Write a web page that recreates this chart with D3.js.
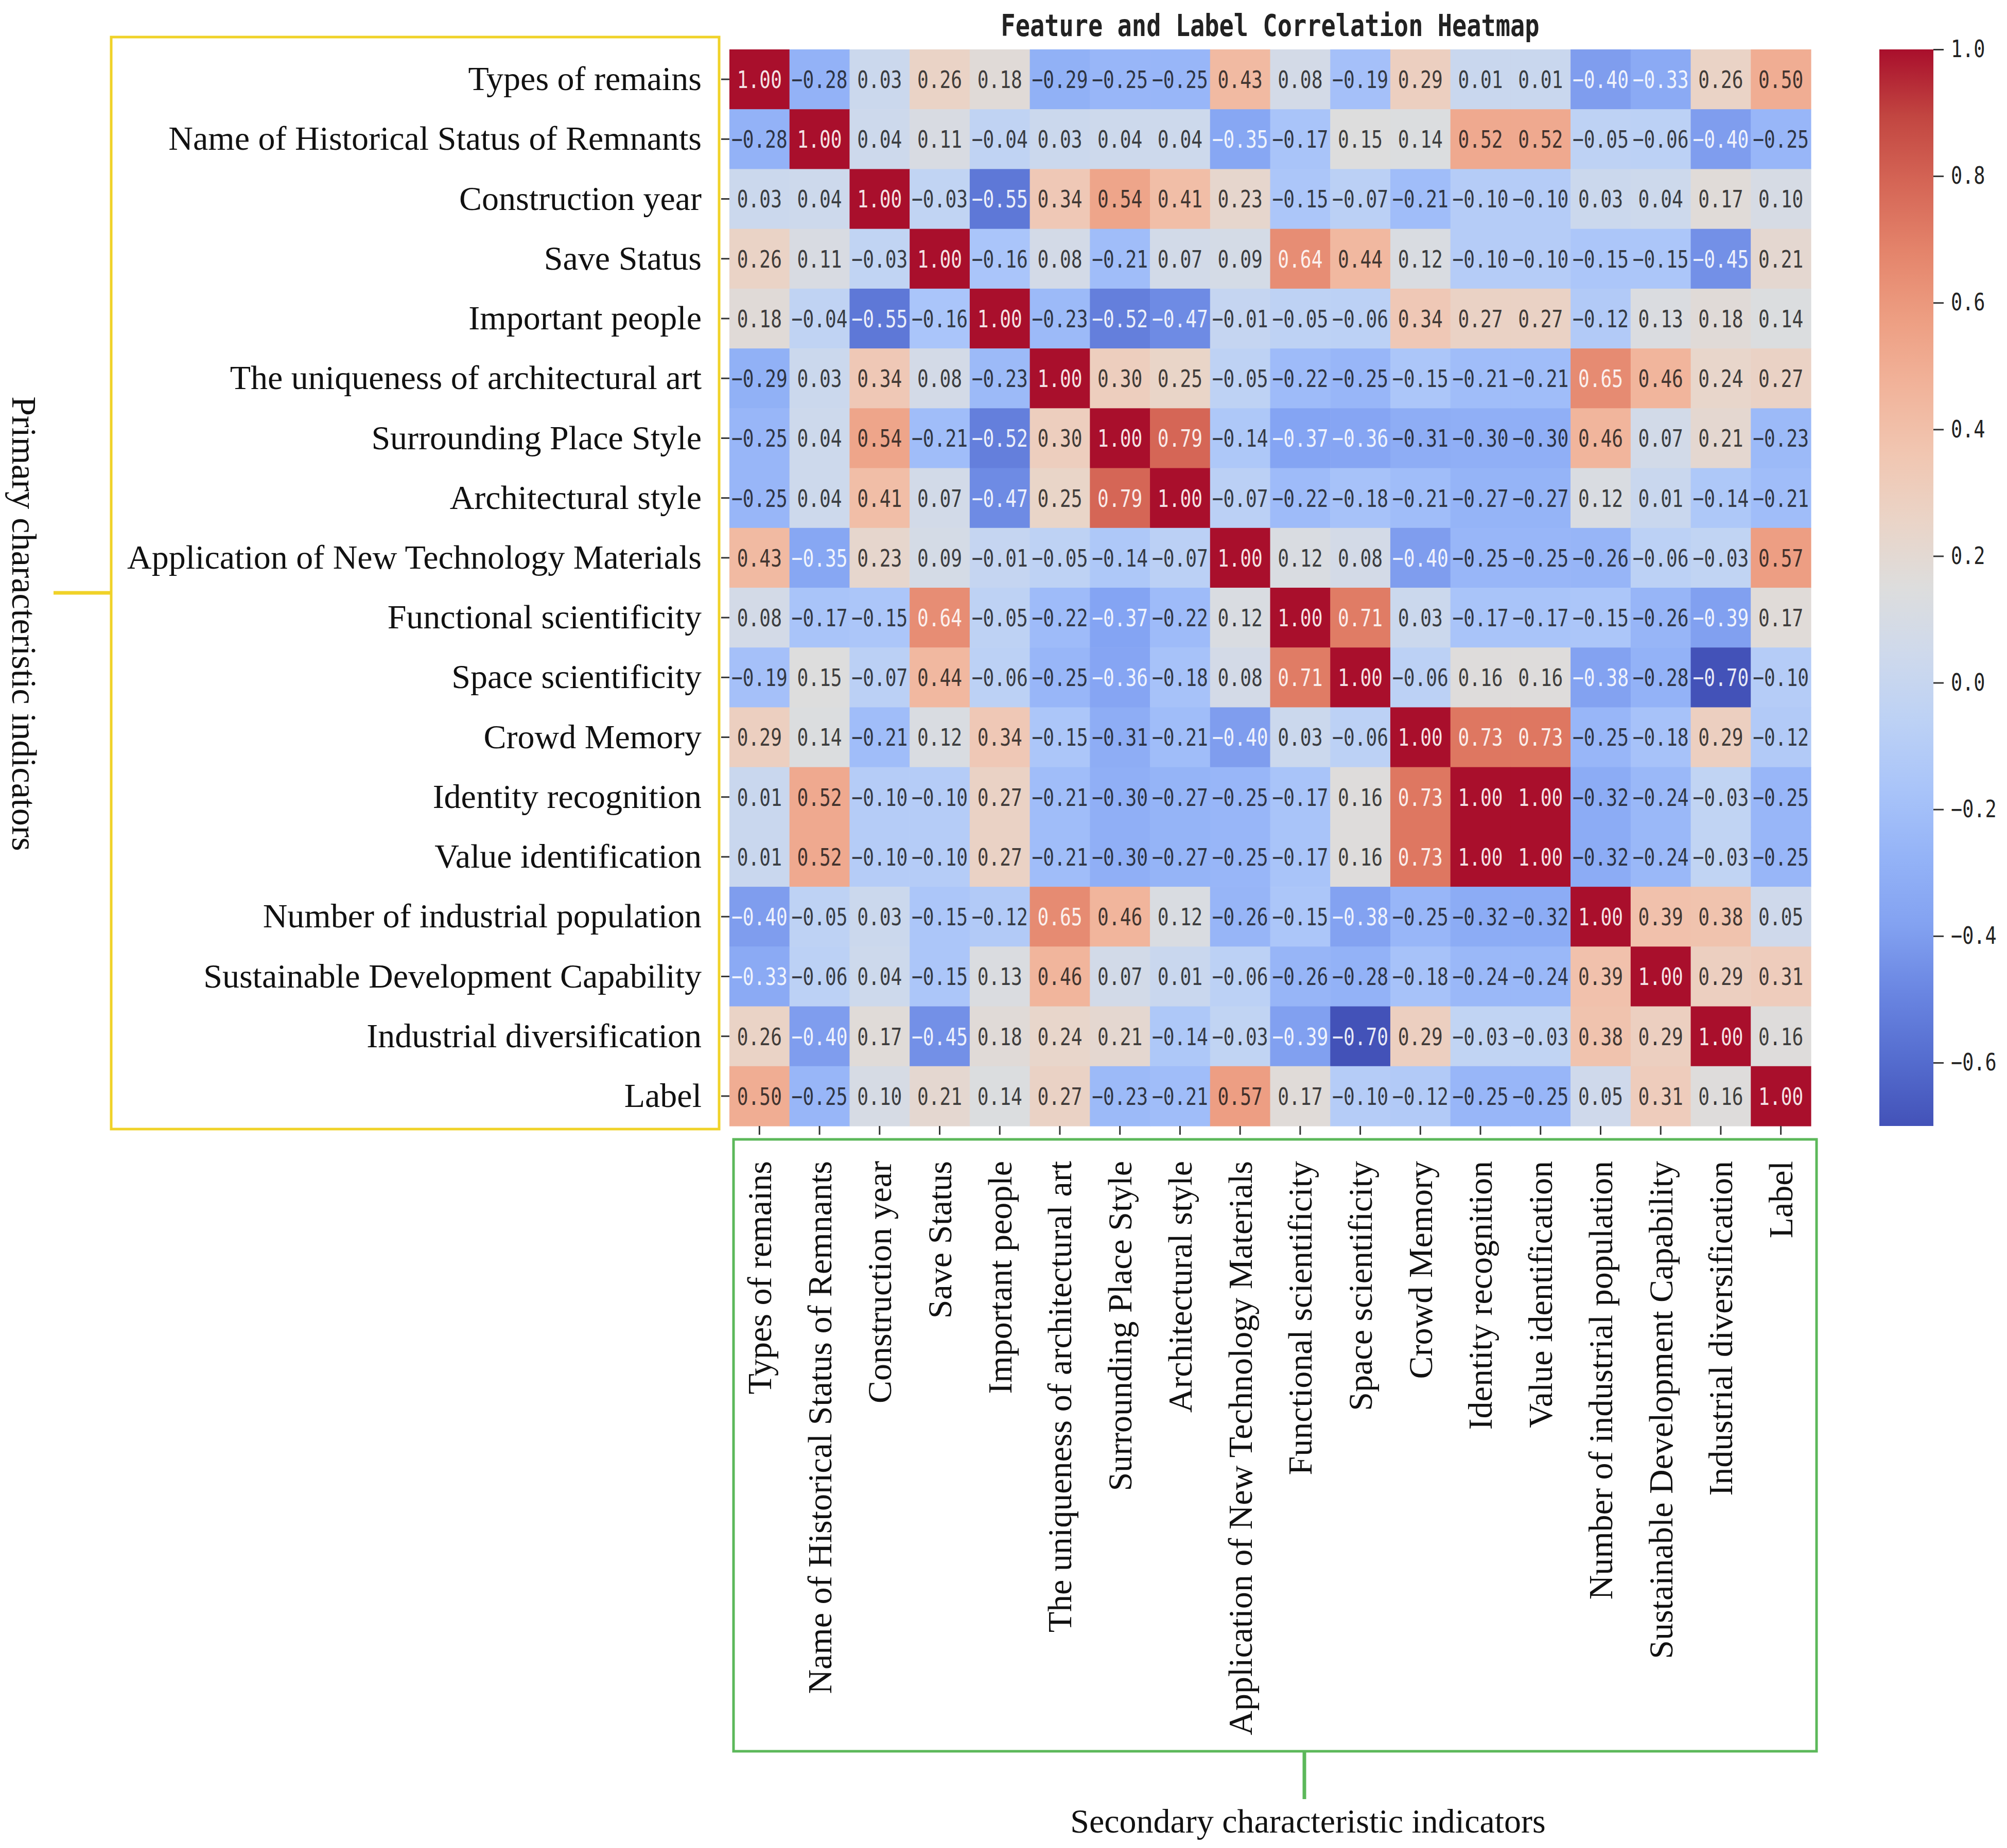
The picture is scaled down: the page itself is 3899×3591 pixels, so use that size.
<!DOCTYPE html>
<html>
<head>
<meta charset="utf-8">
<script src="https://cdn.jsdelivr.net/npm/d3@7/dist/d3.min.js"></script>
<style>
  body { margin: 0; background: #fff; }
</style>
</head>
<body>
<svg id="heatmap"></svg>
<script>
// feature names (rows and columns are the same list)
const features = [
  "Types of remains",
  "Name of Historical Status of Remnants",
  "Construction year",
  "Save Status",
  "Important people",
  "The uniqueness of architectural art",
  "Surrounding Place Style",
  "Architectural style",
  "Application of New Technology Materials",
  "Functional scientificity",
  "Space scientificity",
  "Crowd Memory",
  "Identity recognition",
  "Value identification",
  "Number of industrial population",
  "Sustainable Development Capability",
  "Industrial diversification",
  "Label"
];

// correlation rows
const rowTypes      = [1.00, -0.28, 0.03, 0.26, 0.18, -0.29, -0.25, -0.25, 0.43, 0.08, -0.19, 0.29, 0.01, 0.01, -0.40, -0.33, 0.26, 0.50];
const rowName       = [-0.28, 1.00, 0.04, 0.11, -0.04, 0.03, 0.04, 0.04, -0.35, -0.17, 0.15, 0.14, 0.52, 0.52, -0.05, -0.06, -0.40, -0.25];
const rowYear       = [0.03, 0.04, 1.00, -0.03, -0.55, 0.34, 0.54, 0.41, 0.23, -0.15, -0.07, -0.21, -0.10, -0.10, 0.03, 0.04, 0.17, 0.10];
const rowSave       = [0.26, 0.11, -0.03, 1.00, -0.16, 0.08, -0.21, 0.07, 0.09, 0.64, 0.44, 0.12, -0.10, -0.10, -0.15, -0.15, -0.45, 0.21];
const rowPeople     = [0.18, -0.04, -0.55, -0.16, 1.00, -0.23, -0.52, -0.47, -0.01, -0.05, -0.06, 0.34, 0.27, 0.27, -0.12, 0.13, 0.18, 0.14];
const rowUnique     = [-0.29, 0.03, 0.34, 0.08, -0.23, 1.00, 0.30, 0.25, -0.05, -0.22, -0.25, -0.15, -0.21, -0.21, 0.65, 0.46, 0.24, 0.27];
const rowPlace      = [-0.25, 0.04, 0.54, -0.21, -0.52, 0.30, 1.00, 0.79, -0.14, -0.37, -0.36, -0.31, -0.30, -0.30, 0.46, 0.07, 0.21, -0.23];
const rowArchStyle  = [-0.25, 0.04, 0.41, 0.07, -0.47, 0.25, 0.79, 1.00, -0.07, -0.22, -0.18, -0.21, -0.27, -0.27, 0.12, 0.01, -0.14, -0.21];
const rowNewTech    = [0.43, -0.35, 0.23, 0.09, -0.01, -0.05, -0.14, -0.07, 1.00, 0.12, 0.08, -0.40, -0.25, -0.25, -0.26, -0.06, -0.03, 0.57];
const rowFunctional = [0.08, -0.17, -0.15, 0.64, -0.05, -0.22, -0.37, -0.22, 0.12, 1.00, 0.71, 0.03, -0.17, -0.17, -0.15, -0.26, -0.39, 0.17];
const rowSpace      = [-0.19, 0.15, -0.07, 0.44, -0.06, -0.25, -0.36, -0.18, 0.08, 0.71, 1.00, -0.06, 0.16, 0.16, -0.38, -0.28, -0.70, -0.10];
const rowCrowd      = [0.29, 0.14, -0.21, 0.12, 0.34, -0.15, -0.31, -0.21, -0.40, 0.03, -0.06, 1.00, 0.73, 0.73, -0.25, -0.18, 0.29, -0.12];
const rowIdentity   = [0.01, 0.52, -0.10, -0.10, 0.27, -0.21, -0.30, -0.27, -0.25, -0.17, 0.16, 0.73, 1.00, 1.00, -0.32, -0.24, -0.03, -0.25];
const rowValue      = [0.01, 0.52, -0.10, -0.10, 0.27, -0.21, -0.30, -0.27, -0.25, -0.17, 0.16, 0.73, 1.00, 1.00, -0.32, -0.24, -0.03, -0.25];
const rowPopulation = [-0.40, -0.05, 0.03, -0.15, -0.12, 0.65, 0.46, 0.12, -0.26, -0.15, -0.38, -0.25, -0.32, -0.32, 1.00, 0.39, 0.38, 0.05];
const rowSustain    = [-0.33, -0.06, 0.04, -0.15, 0.13, 0.46, 0.07, 0.01, -0.06, -0.26, -0.28, -0.18, -0.24, -0.24, 0.39, 1.00, 0.29, 0.31];
const rowDiversity  = [0.26, -0.40, 0.17, -0.45, 0.18, 0.24, 0.21, -0.14, -0.03, -0.39, -0.70, 0.29, -0.03, -0.03, 0.38, 0.29, 1.00, 0.16];
const rowLabel      = [0.50, -0.25, 0.10, 0.21, 0.14, 0.27, -0.23, -0.21, 0.57, 0.17, -0.10, -0.12, -0.25, -0.25, 0.05, 0.31, 0.16, 1.00];

const matrix = [rowTypes, rowName, rowYear, rowSave, rowPeople, rowUnique, rowPlace, rowArchStyle,
  rowNewTech, rowFunctional, rowSpace, rowCrowd, rowIdentity, rowValue, rowPopulation, rowSustain,
  rowDiversity, rowLabel];

const colorbarTicks = [1.0, 0.8, 0.6, 0.4, 0.2, 0.0, -0.2, -0.4, -0.6];

const chartTitle = "Feature and Label Correlation Heatmap";
const primaryTitle = "Primary characteristic indicators";
const secondaryTitle = "Secondary characteristic indicators";

// coolwarm colormap (Moreland), sampled
const coolwarm = ["#3b4cc0", "#4d68d7", "#6282ea", "#7b9ff9", "#8db0fe", "#a3c2ff", "#b8d0f9", "#ccd9ee",
  "#dddddd", "#ecd3c5", "#f5c4ad", "#f7b194", "#f49a7b", "#ec7f63", "#de604d", "#cb3e38", "#b40426"];

const W = 3899, H = 3591;
const plot = { left: 1417, right: 3518, top: 96, bottom: 2188 };

const svg = d3.select("#heatmap").attr("width", W).attr("height", H);
svg.append("rect").attr("width", W).attr("height", H).attr("fill", "#fff");

// scales
const x = d3.scaleBand().domain(d3.range(features.length)).range([plot.left, plot.right]);
const y = d3.scaleBand().domain(d3.range(features.length)).range([plot.top, plot.bottom]);

const allVals = matrix.flat();
const vmin = d3.min(allVals), vmax = d3.max(allVals);
const cw = d3.scaleLinear()
  .domain(coolwarm.map((c, i) => i / (coolwarm.length - 1)))
  .range(coolwarm)
  .interpolate(d3.interpolateRgb);
// picture is a bit washed out compared to plain coolwarm
const mute = c => { const h = d3.hsl(c); h.s *= 0.88; return h.formatHex(); };
const color = v => mute(cw((v - vmin) / (vmax - vmin)));

// seaborn picks text colour by luminance of the cell
function luminance(c) {
  const rgb = d3.rgb(c);
  const lin = [rgb.r, rgb.g, rgb.b].map(v => {
    v = v / 255;
    return v <= 0.03928 ? v / 12.92 : Math.pow((v + 0.055) / 1.055, 2.4);
  });
  return 0.2126 * lin[0] + 0.7152 * lin[1] + 0.0722 * lin[2];
}

const cells = [];
matrix.forEach((row, i) => row.forEach((v, j) => cells.push({ i, j, v })));

const fmt = d3.format(".2f");

svg.append("g").selectAll("rect")
  .data(cells)
  .join("rect")
  .attr("x", d => x(d.j))
  .attr("y", d => y(d.i))
  .attr("width", x.bandwidth() + 0.6)
  .attr("height", y.bandwidth() + 0.6)
  .attr("fill", d => color(d.v));

// annotations: mono font squeezed sideways like the original
const squeeze = 0.77;
svg.append("g").selectAll("text")
  .data(cells)
  .join("text")
  .attr("transform", d => `translate(${x(d.j) + x.bandwidth() / 2},${y(d.i) + y.bandwidth() / 2}) scale(${squeeze},1)`)
  .attr("dy", "0.36em")
  .attr("text-anchor", "middle")
  .attr("font-family", "'DejaVu Sans Mono', monospace")
  .attr("font-size", 47)
  .attr("fill", d => {
    const c = color(d.v);
    return luminance(c) > 0.408 ? d3.interpolateRgb(c, "#111")(0.78) : "#fff";
  })
  .attr("fill-opacity", d => luminance(color(d.v)) > 0.408 ? 1 : 0.9)
  .text(d => fmt(d.v));

// axes
const labelFont = "'Liberation Serif', 'Times New Roman', serif";
const yAxis = d3.axisLeft(y).tickSize(16).tickPadding(38).tickFormat(i => features[i]);
const gy = svg.append("g").attr("transform", `translate(${plot.left},0)`).call(yAxis);
gy.select(".domain").remove();
gy.selectAll(".tick line").attr("stroke", "#333").attr("stroke-width", 3);
gy.selectAll(".tick text")
  .attr("font-family", labelFont)
  .attr("font-size", 66)
  .attr("fill", "#111");

const xAxis = d3.axisBottom(x).tickSize(17).tickFormat(i => features[i]);
const gx = svg.append("g").attr("transform", `translate(0,${plot.bottom})`).call(xAxis);
gx.select(".domain").remove();
gx.selectAll(".tick line").attr("stroke", "#333").attr("stroke-width", 3);
gx.selectAll(".tick text")
  .attr("font-family", labelFont)
  .attr("font-size", 66)
  .attr("fill", "#111")
  .attr("transform", "rotate(-90)")
  .attr("text-anchor", "end")
  .attr("x", -68)
  .attr("y", 0)
  .attr("dy", "0.34em");

// title
svg.append("text")
  .attr("transform", `translate(${(plot.left + plot.right) / 2},70) scale(0.81,1)`)
  .attr("text-anchor", "middle")
  .attr("font-family", "'DejaVu Sans Mono', monospace")
  .attr("font-weight", "bold")
  .attr("font-size", 58)
  .attr("fill", "#222")
  .text(chartTitle);

// colorbar
const cbar = { left: 3651, right: 3756 };
const cy = d3.scaleLinear().domain([vmin, vmax]).range([plot.bottom, plot.top]);
const grad = svg.append("defs").append("linearGradient")
  .attr("id", "cwgrad").attr("x1", 0).attr("y1", 1).attr("x2", 0).attr("y2", 0);
grad.selectAll("stop")
  .data(coolwarm)
  .join("stop")
  .attr("offset", (c, i) => i / (coolwarm.length - 1))
  .attr("stop-color", c => mute(c));
svg.append("rect")
  .attr("x", cbar.left)
  .attr("y", plot.top)
  .attr("width", cbar.right - cbar.left)
  .attr("height", plot.bottom - plot.top)
  .attr("fill", "url(#cwgrad)");

const cAxis = d3.axisRight(cy).tickValues(colorbarTicks).tickSize(20).tickFormat(d3.format(".1f"));
const gc = svg.append("g").attr("transform", `translate(${cbar.right},0)`).call(cAxis);
gc.select(".domain").remove();
gc.selectAll(".tick line").attr("stroke", "#333").attr("stroke-width", 3);
gc.selectAll(".tick text")
  .attr("x", null)
  .attr("transform", `translate(34,0) scale(0.8,1)`)
  .attr("font-family", "'DejaVu Sans Mono', monospace")
  .attr("font-size", 46)
  .attr("fill", "#222");

// yellow bracket for primary indicators
const yellow = "#f0d228";
svg.append("rect")
  .attr("x", 216).attr("y", 72)
  .attr("width", 1397 - 216).attr("height", 2194 - 72)
  .attr("fill", "none").attr("stroke", yellow).attr("stroke-width", 5);
svg.append("line")
  .attr("x1", 104).attr("x2", 216).attr("y1", 1152).attr("y2", 1152)
  .attr("stroke", yellow).attr("stroke-width", 7);
svg.append("text")
  .attr("transform", "translate(46,1212) rotate(90)")
  .attr("text-anchor", "middle")
  .attr("dy", "0.33em")
  .attr("font-family", labelFont)
  .attr("font-size", 68)
  .attr("fill", "#111")
  .text(primaryTitle);

// green bracket for secondary indicators
const green = "#5cb85a";
svg.append("rect")
  .attr("x", 1425).attr("y", 2214)
  .attr("width", 3529 - 1425).attr("height", 3403 - 2214)
  .attr("fill", "none").attr("stroke", green).attr("stroke-width", 5);
svg.append("line")
  .attr("x1", 2534).attr("x2", 2534).attr("y1", 3403).attr("y2", 3496)
  .attr("stroke", green).attr("stroke-width", 7);
svg.append("text")
  .attr("x", 2541)
  .attr("y", 3561)
  .attr("text-anchor", "middle")
  .attr("font-family", labelFont)
  .attr("font-size", 66)
  .attr("fill", "#111")
  .text(secondaryTitle);
</script>
</body>
</html>
